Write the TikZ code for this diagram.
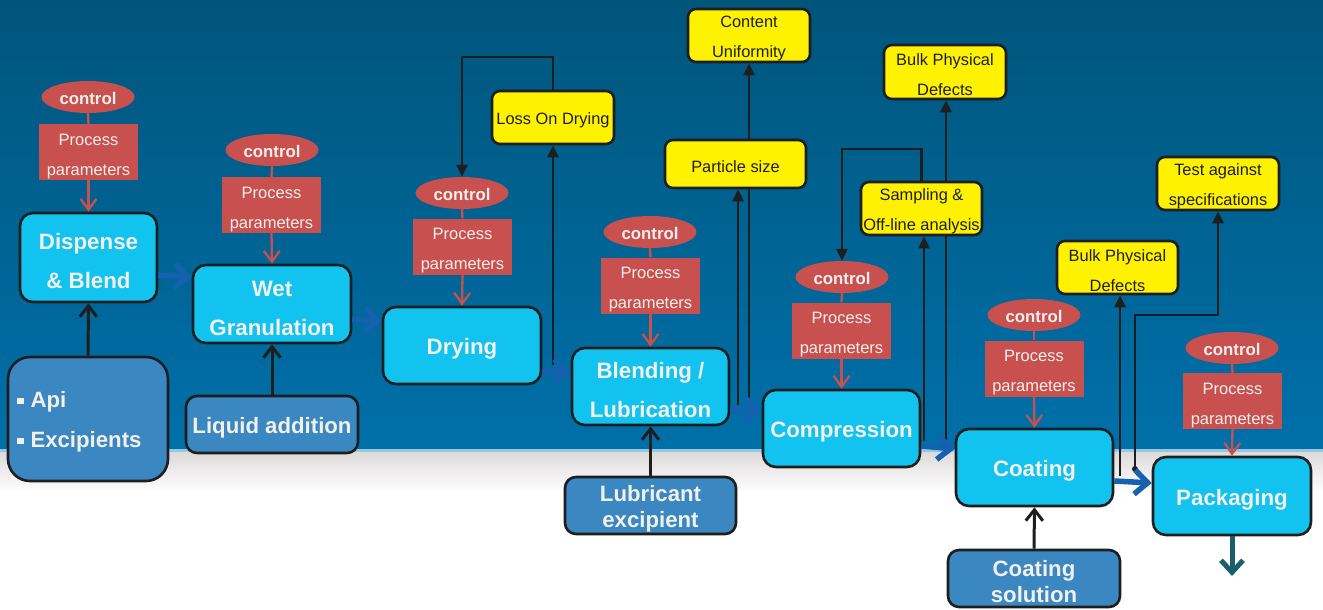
\documentclass[tikz,border=0pt]{standalone}
\usepackage{fontspec}
\setmainfont{Liberation Sans}
\usetikzlibrary{arrows.meta,shapes.geometric}
\definecolor{bgtop}{RGB}{0,85,123}
\definecolor{bgbot}{RGB}{0,112,170}
\definecolor{bgstrip}{RGB}{150,200,225}
\definecolor{bggrey}{RGB}{222,218,218}
\definecolor{cyanbox}{RGB}{18,194,239}
\definecolor{inblue}{RGB}{58,135,193}
\definecolor{redc}{RGB}{200,80,78}
\definecolor{yellowc}{RGB}{255,242,0}
\definecolor{txtw}{RGB}{242,240,235}
\definecolor{linek}{RGB}{30,30,30}
\definecolor{flowblue}{RGB}{22,96,176}
\definecolor{tealc}{RGB}{25,95,110}
\def\tsh{0pt}
\newcommand\ts{\rule{0pt}{\tsh}}
\begin{document}
\begin{tikzpicture}[x=1pt,y=-1pt,
  tshift/.style={execute at begin node={\def\tsh{#1}}},
  proc/.style={draw=linek, line width=2.6pt, fill=cyanbox, rounded corners=13pt, text=txtw,
    font=\bfseries\fontsize{22.3}{39}\selectfont, align=center, inner sep=0pt, tshift=23.5pt},
  inbox/.style={draw=linek, line width=2.6pt, fill=inblue, rounded corners=11pt, text=txtw,
    font=\bfseries\fontsize{22.2}{26}\selectfont, align=center, inner sep=0pt, tshift=22.5pt},
  ctrl/.style={ellipse, fill=redc, text=txtw, font=\bfseries\fontsize{16.8}{18}\selectfont,
    minimum width=93pt, minimum height=32pt, inner sep=0pt, tshift=14.5pt},
  ppbox/.style={rectangle, fill=redc, text=txtw, font=\fontsize{16.5}{30}\selectfont,
    minimum width=99pt, minimum height=56pt, align=center, inner sep=0pt, tshift=19.5pt},
  yel/.style={draw=linek, line width=2.6pt, fill=yellowc, rounded corners=8pt, text=linek,
    font=\fontsize{16.4}{30}\selectfont, align=center, inner sep=0pt, tshift=18pt},
  redline/.style={draw=redc, line width=2.3pt},
  redarr/.style={draw=redc, line width=2.3pt, -{Straight Barb[width=16pt,length=11pt]}},
  inarr/.style={draw=linek, line width=3pt, -{Straight Barb[width=17pt,length=11pt]}},
  fb/.style={draw=linek, line width=2.6pt, -{Triangle[width=11pt,length=12pt]}},
  fbline/.style={draw=linek, line width=2.6pt},
  flow/.style={draw=flowblue, line width=5.5pt, -{Straight Barb[width=24pt,length=13pt]}},
]
\useasboundingbox (0,0) rectangle (1323,610);
% background
\shade[top color=bgtop, bottom color=bgbot] (0,0) rectangle (1323,449);
\fill[white] (0,449) rectangle (1323,610);
\fill[bgstrip] (0,449) rectangle (1323,452);
\shade[top color=bggrey, bottom color=white] (0,452) rectangle (1323,492);

% process boxes
\node[proc, minimum width=137pt, minimum height=89pt] (disp) at (88.5,257.5) {\ts Dispense\\\& Blend};
\node[proc, minimum width=158pt, minimum height=78pt] (wet) at (272,304) {\ts Wet\\Granulation};
\node[proc, minimum width=158pt, minimum height=77pt] (dry) at (462,345.5) {\ts Drying};
\node[proc, minimum width=157pt, minimum height=77pt] (blend) at (650.5,386.5) {\ts Blending /\\Lubrication};
\node[proc, minimum width=157pt, minimum height=77pt] (comp) at (841.5,428.5) {\ts Compression};
\node[proc, minimum width=157pt, minimum height=77pt] (coat) at (1034.5,467.5) {\ts Coating};
\node[proc, minimum width=158pt, minimum height=78pt] (pack) at (1232,496) {\ts Packaging};

% inputs
\node[inbox, rounded corners=22pt, minimum width=160pt, minimum height=124pt, text width=142pt, align=left,
  font=\bfseries\fontsize{22.2}{40}\selectfont] (api) at (88,419)
  {\ts\rule[3.5pt]{6.5pt}{6.5pt}\hspace{7pt}Api\\\rule[3.5pt]{6.5pt}{6.5pt}\hspace{7pt}Excipients};
\node[inbox, minimum width=172pt, minimum height=57pt] (liq) at (272,424.5) {\ts Liquid addition};
\node[inbox, minimum width=171pt, minimum height=57pt] (lub) at (650.5,505.5) {\ts Lubricant\\excipient};
\node[inbox, minimum width=172pt, minimum height=57pt] (csol) at (1034,578.5) {\ts Coating\\solution};

% control + process parameters
\node[ctrl] (c1) at (88,97) {\ts control};
\node[ctrl] (c2) at (272,150) {\ts control};
\node[ctrl] (c3) at (462,193) {\ts control};
\node[ctrl] (c4) at (650,232) {\ts control};
\node[ctrl] (c5) at (842,277) {\ts control};
\node[ctrl] (c6) at (1034,315) {\ts control};
\node[ctrl] (c7) at (1232,348) {\ts control};
\node[ppbox] (p1) at (88.5,152) {\ts Process\\parameters};
\node[ppbox] (p2) at (271.5,205) {\ts Process\\parameters};
\node[ppbox] (p3) at (462.5,246.5) {\ts Process\\parameters};
\node[ppbox] (p4) at (650.5,285.5) {\ts Process\\parameters};
\node[ppbox] (p5) at (841.5,330.5) {\ts Process\\parameters};
\node[ppbox] (p6) at (1034,368.5) {\ts Process\\parameters};
\node[ppbox] (p7) at (1232.5,401) {\ts Process\\parameters};

% yellow analysis boxes
\node[yel, minimum width=122pt, minimum height=53pt] (lod) at (553,117.5) {\ts Loss On Drying};
\node[yel, minimum width=141pt, minimum height=48pt] (ps) at (735.5,164) {\ts Particle size};
\node[yel, minimum width=122pt, minimum height=53pt] (cu) at (749,35.5) {\ts Content\\Uniformity};
\node[yel, minimum width=121pt, minimum height=53pt] (samp) at (921.5,208.5) {\ts Sampling \&\\Off-line analysis};
\node[yel, minimum width=122pt, minimum height=54pt] (bpd1) at (945,72) {\ts Bulk Physical\\Defects};
\node[yel, minimum width=121pt, minimum height=53pt] (bpd2) at (1117.5,267.5) {\ts Bulk Physical\\Defects};
\node[yel, minimum width=122pt, minimum height=53pt] (tas) at (1218,183.5) {\ts Test against\\specifications};

% red control links
\foreach \i/\b in {1/disp,2/wet,3/dry,4/blend,5/comp,6/coat,7/pack}{
  \draw[redline] (c\i.south) -- (p\i.north);
  \draw[redarr] (p\i.south) -- (\b.north);
}

% input arrows
\draw[inarr] (api.north) -- (disp.south);
\draw[inarr] (liq.north) -- (wet.south);
\draw[inarr] (lub.north) -- (blend.south);
\draw[inarr] (csol.north) -- (coat.south);

% feedback / measurement lines
\coordinate (lodin) at (553,365);
\coordinate (psin) at (738,405);
\coordinate (cuin) at (749,405);
\coordinate (sampin) at (924,441);
\coordinate (bpdin) at (946,445);
\coordinate (bpdtwoin) at (1120,476);
\coordinate (tasin) at (1135,469);

\draw[fb] (lod.north) -- (lod.north |- 0,57) -| (c3.north);
\draw[fb] (lodin) -- (lod.south);
\draw[fb] (psin) -- (psin |- ps.south);
\draw[fbline] (cuin) -- (cuin |- ps.south);
\draw[fb] (cuin |- ps.north) -- (cuin |- cu.south);
\draw[fb] (samp.north) -- (samp.north |- 0,149) -| (c5.north);
\draw[fb] (sampin) -- (sampin |- samp.south);
\draw[fbline] (bpdin) -- (bpdin |- samp.south);
\draw[fb] (bpdin |- samp.north) -- (bpdin |- bpd1.south);
\draw[fb] (bpdtwoin) -- (bpdtwoin |- bpd2.south);
\draw[fb] (tasin) -- (tasin |- 0,315) -| (tas.south);
\fill[linek] (tasin) circle (3pt);

% main flow arrows
\draw[flow] (disp.east |- 0,275) -- (wet.west |- 0,277);
\draw[flow] (wet.east |- 0,319) -- (dry.west |- 0,321);
\draw[flow] (dry.east |- 0,371) -- (blend.west |- 0,372);
\draw[flow] (blend.east |- 0,409) -- (comp.west |- 0,411);
\draw[flow] (comp.east |- 0,446) -- (coat.west |- 0,449);
\draw[flow] (coat.east |- 0,481) -- (pack.west |- 0,483);
\coordinate (out) at (1232,576);
\draw[draw=tealc, line width=5pt, -{Straight Barb[width=22pt,length=12pt]}] (pack.south) -- (out);
\end{tikzpicture}
\end{document}
